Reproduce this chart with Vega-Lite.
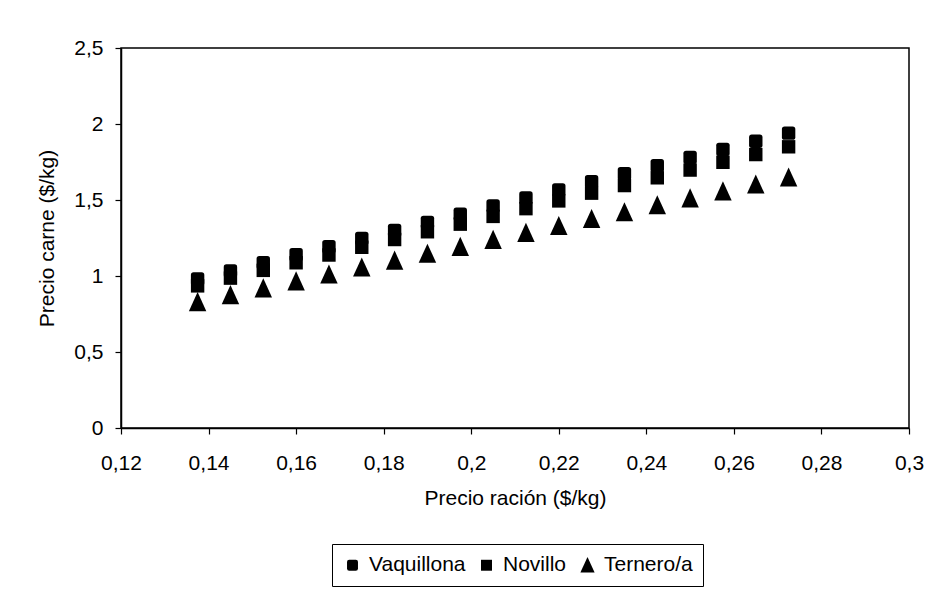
{
  "$schema": "https://vega.github.io/schema/vega-lite/v6.json",
  "width": 788,
  "height": 380,
  "autosize": {"type": "none"},
  "padding": {"left": 121, "top": 48, "right": 33, "bottom": 167},
  "background": "white",
  "config": {
    "locale": {"number": {"decimal": ",", "thousands": ".", "grouping": [3], "currency": ["$", ""]}},
    "font": "Liberation Sans",
    "view": {"stroke": "black", "strokeWidth": 1.5},
    "axis": {
      "domainColor": "black",
      "domainWidth": 1.5,
      "tickColor": "black",
      "tickWidth": 1.2,
      "tickSize": 6,
      "grid": false,
      "labelColor": "black",
      "labelFont": "Liberation Sans",
      "labelFontSize": 21,
      "titleColor": "black",
      "titleFont": "Liberation Sans",
      "titleFontSize": 21,
      "titleFontWeight": "normal"
    },
    "legend": {
      "labelFont": "Liberation Sans",
      "labelFontSize": 21,
      "labelColor": "black"
    }
  },
  "data": {
    "values": [
      {"racion": 0.1375, "carne": 0.98, "tipo": "Vaquillona"},
      {"racion": 0.145, "carne": 1.033, "tipo": "Vaquillona"},
      {"racion": 0.1525, "carne": 1.087, "tipo": "Vaquillona"},
      {"racion": 0.16, "carne": 1.14, "tipo": "Vaquillona"},
      {"racion": 0.1675, "carne": 1.193, "tipo": "Vaquillona"},
      {"racion": 0.175, "carne": 1.247, "tipo": "Vaquillona"},
      {"racion": 0.1825, "carne": 1.3, "tipo": "Vaquillona"},
      {"racion": 0.19, "carne": 1.353, "tipo": "Vaquillona"},
      {"racion": 0.1975, "carne": 1.406, "tipo": "Vaquillona"},
      {"racion": 0.205, "carne": 1.46, "tipo": "Vaquillona"},
      {"racion": 0.2125, "carne": 1.513, "tipo": "Vaquillona"},
      {"racion": 0.22, "carne": 1.566, "tipo": "Vaquillona"},
      {"racion": 0.2275, "carne": 1.62, "tipo": "Vaquillona"},
      {"racion": 0.235, "carne": 1.673, "tipo": "Vaquillona"},
      {"racion": 0.2425, "carne": 1.726, "tipo": "Vaquillona"},
      {"racion": 0.25, "carne": 1.78, "tipo": "Vaquillona"},
      {"racion": 0.2575, "carne": 1.833, "tipo": "Vaquillona"},
      {"racion": 0.265, "carne": 1.886, "tipo": "Vaquillona"},
      {"racion": 0.2725, "carne": 1.94, "tipo": "Vaquillona"},
      {"racion": 0.1375, "carne": 0.935, "tipo": "Novillo"},
      {"racion": 0.145, "carne": 0.986, "tipo": "Novillo"},
      {"racion": 0.1525, "carne": 1.037, "tipo": "Novillo"},
      {"racion": 0.16, "carne": 1.087, "tipo": "Novillo"},
      {"racion": 0.1675, "carne": 1.138, "tipo": "Novillo"},
      {"racion": 0.175, "carne": 1.189, "tipo": "Novillo"},
      {"racion": 0.1825, "carne": 1.24, "tipo": "Novillo"},
      {"racion": 0.19, "carne": 1.291, "tipo": "Novillo"},
      {"racion": 0.1975, "carne": 1.341, "tipo": "Novillo"},
      {"racion": 0.205, "carne": 1.392, "tipo": "Novillo"},
      {"racion": 0.2125, "carne": 1.443, "tipo": "Novillo"},
      {"racion": 0.22, "carne": 1.494, "tipo": "Novillo"},
      {"racion": 0.2275, "carne": 1.545, "tipo": "Novillo"},
      {"racion": 0.235, "carne": 1.595, "tipo": "Novillo"},
      {"racion": 0.2425, "carne": 1.646, "tipo": "Novillo"},
      {"racion": 0.25, "carne": 1.697, "tipo": "Novillo"},
      {"racion": 0.2575, "carne": 1.748, "tipo": "Novillo"},
      {"racion": 0.265, "carne": 1.799, "tipo": "Novillo"},
      {"racion": 0.2725, "carne": 1.85, "tipo": "Novillo"},
      {"racion": 0.1375, "carne": 0.83, "tipo": "Ternero/a"},
      {"racion": 0.145, "carne": 0.876, "tipo": "Ternero/a"},
      {"racion": 0.1525, "carne": 0.921, "tipo": "Ternero/a"},
      {"racion": 0.16, "carne": 0.967, "tipo": "Ternero/a"},
      {"racion": 0.1675, "carne": 1.012, "tipo": "Ternero/a"},
      {"racion": 0.175, "carne": 1.058, "tipo": "Ternero/a"},
      {"racion": 0.1825, "carne": 1.103, "tipo": "Ternero/a"},
      {"racion": 0.19, "carne": 1.149, "tipo": "Ternero/a"},
      {"racion": 0.1975, "carne": 1.194, "tipo": "Ternero/a"},
      {"racion": 0.205, "carne": 1.24, "tipo": "Ternero/a"},
      {"racion": 0.2125, "carne": 1.286, "tipo": "Ternero/a"},
      {"racion": 0.22, "carne": 1.331, "tipo": "Ternero/a"},
      {"racion": 0.2275, "carne": 1.377, "tipo": "Ternero/a"},
      {"racion": 0.235, "carne": 1.422, "tipo": "Ternero/a"},
      {"racion": 0.2425, "carne": 1.468, "tipo": "Ternero/a"},
      {"racion": 0.25, "carne": 1.513, "tipo": "Ternero/a"},
      {"racion": 0.2575, "carne": 1.559, "tipo": "Ternero/a"},
      {"racion": 0.265, "carne": 1.604, "tipo": "Ternero/a"},
      {"racion": 0.2725, "carne": 1.65, "tipo": "Ternero/a"}
    ]
  },
  "mark": {"type": "point", "filled": true, "color": "black", "opacity": 1, "size": 180},
  "encoding": {
    "x": {
      "field": "racion",
      "type": "quantitative",
      "scale": {"domain": [0.12, 0.3], "nice": false, "zero": false},
      "axis": {
        "title": "Precio ración ($/kg)",
        "values": [0.12, 0.14, 0.16, 0.18, 0.2, 0.22, 0.24, 0.26, 0.28, 0.3],
        "format": ".2~f",
        "labelPadding": 18,
        "titlePadding": 14,
        "labelFlush": false
      }
    },
    "y": {
      "field": "carne",
      "type": "quantitative",
      "scale": {"domain": [0, 2.5], "nice": false},
      "axis": {
        "title": "Precio carne ($/kg)",
        "values": [0, 0.5, 1, 1.5, 2, 2.5],
        "format": ".1~f",
        "labelPadding": 12,
        "titlePadding": 16,
        "labelFlush": false
      }
    },
    "shape": {
      "field": "tipo",
      "type": "nominal",
      "scale": {
        "domain": ["Vaquillona", "Novillo", "Ternero/a"],
        "range": [
          "M-1,-0.6Q-1,-1,-0.6,-1L0.6,-1Q1,-1,1,-0.6L1,0.6Q1,1,0.6,1L-0.6,1Q-1,1,-1,0.6Z",
          "square",
          "M0,-1.45L1.3,1.4L-1.3,1.4Z"
        ]
      },
      "legend": {
        "title": null,
        "orient": "none",
        "direction": "horizontal",
        "legendX": 211,
        "legendY": 496,
        "strokeColor": "black",
        "padding": 10,
        "symbolSize": 120,
        "symbolFillColor": "black",
        "symbolStrokeColor": "black",
        "symbolOpacity": 1,
        "labelOffset": 6,
        "columnPadding": 10
      }
    }
  }
}
